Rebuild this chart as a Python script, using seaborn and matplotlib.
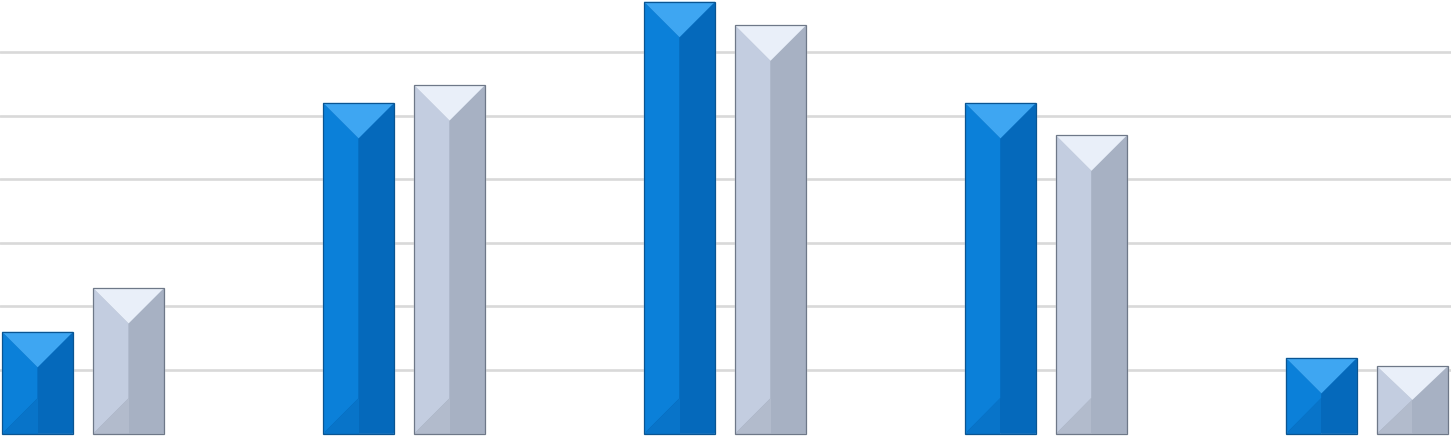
import numpy as np
import pandas as pd
import matplotlib
matplotlib.use("Agg")
import matplotlib.pyplot as plt
import matplotlib.colors as mcolors
from matplotlib.patches import Polygon, Rectangle
import seaborn as sns

# data (gridline = 1 unit)
categories = ["Category 1", "Category 2", "Category 3", "Category 4", "Category 5"]
series_names = ["Series 1", "Series 2"]
series1 = [1.60, 5.20, 6.79, 5.20, 1.19]
series2 = [2.29, 5.48, 6.42, 4.69, 1.06]

base_colors = {"Series 1": "#0b80d9", "Series 2": "#c3cde0"}
# bevel facet shades: top, left, right, bottom, edge
facets = {
    "Series 1": ["#3ea6f2", "#0b80d9", "#0569bb", "#0874c9", "#0a5592"],
    "Series 2": ["#e9eff9", "#c3cde0", "#a7b1c3", "#b2bbcc", "#6e7888"],
}

df = pd.DataFrame({
    "category": categories * 2,
    "series": [series_names[0]] * 5 + [series_names[1]] * 5,
    "value": series1 + series2,
})

sns.set_style("white")
fig = plt.figure(figsize=(14.51, 4.36), dpi=100)
ax = fig.add_axes([0, 0, 1, 1])

sns.barplot(data=df, x="category", y="value", hue="series",
            order=categories, hue_order=series_names, palette=base_colors,
            width=0.567, gap=0.22, legend=False, ax=ax, zorder=2)

ax.set_xlim(-0.259, 4.262)
ax.set_ylim(-0.038, 6.818)
ax.set_yticks([1, 2, 3, 4, 5, 6])
ax.grid(axis="y", color="#d9d9d9", linewidth=1.9, zorder=0)
ax.set_axisbelow(True)
ax.set_xticks([])
ax.tick_params(left=False, labelleft=False)
ax.set_xlabel("")
ax.set_ylabel("")
for s in ax.spines.values():
    s.set_visible(False)

# bevel facets on every bar
bars = list(ax.patches)
for bar in bars:
    fc = bar.get_facecolor()
    name = min(base_colors, key=lambda k: np.abs(np.array(mcolors.to_rgba(base_colors[k])) - np.array(fc)).sum())
    top_c, left_c, right_c, bot_c, edge_c = facets[name]
    bar.set_facecolor(right_c)
    x0 = bar.get_x()
    w = bar.get_width()
    h = bar.get_height()
    x1 = x0 + w
    xc = x0 + w / 2
    # 45 degree bevel: vertical depth equals half the bar width in pixels
    px_half = ax.transData.transform((xc, 0))[0] - ax.transData.transform((x0, 0))[0]
    px_per_y = ax.transData.transform((0, 1))[1] - ax.transData.transform((0, 0))[1]
    dy = min(px_half / px_per_y, h / 2)
    polys = [
        ([(x0, 0), (x0, h), (xc, h - dy), (xc, dy)], left_c),
        ([(x1, 0), (x1, h), (xc, h - dy), (xc, dy)], right_c),
        ([(xc, 0), (x1, 0), (xc, dy)], right_c),
        ([(x0, 0), (xc, 0), (xc, dy)], bot_c),
        ([(x0, h), (x1, h), (xc, h - dy)], top_c),
    ]
    for pts, c in polys:
        ax.add_patch(Polygon(pts, closed=True, facecolor=c, edgecolor="none", zorder=3))
    ax.add_patch(Rectangle((x0, 0), w, h, fill=False, edgecolor=edge_c, linewidth=0.9, zorder=4))

fig.savefig("out.png", dpi=100)
